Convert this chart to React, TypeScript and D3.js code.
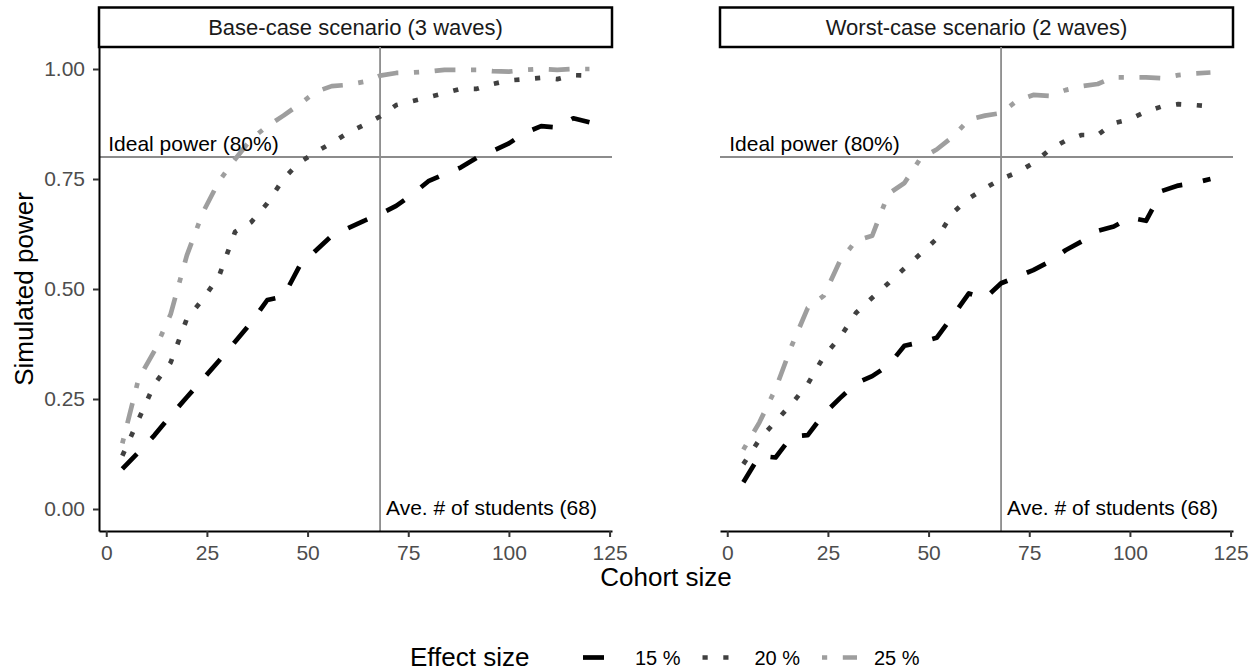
import React, { useEffect, useRef } from "react";
import * as d3 from "d3";

// cohort sizes simulated (x)
const cohortSizes = [
  4, 8, 12, 16, 20, 24, 28, 32, 36, 40, 44, 48, 52, 56, 60, 64, 68, 72, 76, 80,
  84, 88, 92, 96, 100, 104, 108, 112, 116, 120,
];

const scenarios = ["Base-case scenario (3 waves)", "Worst-case scenario (2 waves)"];
const effectSizes = ["15 %", "20 %", "25 %"];

// simulated power, base case
const base15 = [
  0.091, 0.129, 0.168, 0.212, 0.254, 0.295, 0.337, 0.38, 0.424, 0.475, 0.483,
  0.552, 0.587, 0.621, 0.638, 0.655, 0.67, 0.689, 0.715, 0.745, 0.761, 0.776,
  0.798, 0.814, 0.831, 0.855, 0.87, 0.867, 0.888, 0.879,
];
const base20 = [
  0.121, 0.203, 0.284, 0.333, 0.432, 0.477, 0.529, 0.63, 0.652, 0.695, 0.75,
  0.788, 0.811, 0.832, 0.855, 0.873, 0.892, 0.918, 0.927, 0.936, 0.945, 0.955,
  0.955, 0.966, 0.974, 0.977, 0.98, 0.977, 0.986, 0.985,
];
const base25 = [
  0.149, 0.295, 0.36, 0.443, 0.576, 0.674, 0.745, 0.795, 0.841, 0.87, 0.894,
  0.92, 0.948, 0.961, 0.964, 0.971, 0.985, 0.991, 0.992, 0.994, 0.998, 0.998,
  0.998, 0.995, 0.994, 0.998, 1.0, 0.998, 1.0, 1.0,
];

// simulated power, worst case
const worst15 = [
  0.061, 0.121, 0.117, 0.165, 0.168, 0.216, 0.252, 0.286, 0.302, 0.326, 0.371,
  0.379, 0.389, 0.439, 0.49, 0.479, 0.513, 0.528, 0.543, 0.562, 0.588, 0.608,
  0.632, 0.642, 0.662, 0.655, 0.723, 0.735, 0.741, 0.75,
];
const worst20 = [
  0.102, 0.158, 0.199, 0.239, 0.284, 0.347, 0.39, 0.446, 0.48, 0.513, 0.547,
  0.58, 0.614, 0.673, 0.706, 0.729, 0.75, 0.765, 0.786, 0.816, 0.837, 0.85,
  0.85, 0.877, 0.886, 0.903, 0.915, 0.92, 0.918, 0.915,
];
const worst25 = [
  0.135, 0.197, 0.273, 0.371, 0.457, 0.485, 0.564, 0.61, 0.621, 0.716, 0.741,
  0.797, 0.817, 0.846, 0.885, 0.894, 0.9, 0.928, 0.941, 0.939, 0.952, 0.961,
  0.966, 0.981, 0.981, 0.981, 0.979, 0.986, 0.99, 0.992,
];

const xTicks = [0, 25, 50, 75, 100, 125];
const yTicks = [0, 0.25, 0.5, 0.75, 1];
const idealPower = 0.8;
const aveStudents = 68;

const seriesByPanel = [
  [base15, base20, base25],
  [worst15, worst20, worst25],
];

const lineStyles = [
  { color: "#000000", dash: "21,21" },
  { color: "#404040", dash: "5.2,15.6" },
  { color: "#9e9e9e", dash: "5.2,15.6,20.8,15.6" },
];

const FONT = "'Liberation Sans', Arial, Helvetica, sans-serif";

const App = () => {
  const svgRef = useRef(null);

  useEffect(() => {
    const svg = d3.select(svgRef.current);
    svg.selectAll("*").remove();

    const panelW = 513;
    const top = 47;
    const bottom = 531;
    const panelX = [99, 720];

    const x = d3.scaleLinear().domain([-1.8, 125.6]).range([0, panelW]);
    const y = d3.scaleLinear().domain([-0.05, 1.05]).range([bottom, top]);

    const line = d3
      .line<number>()
      .x((d, i) => x(cohortSizes[i]))
      .y((d) => y(d));

    scenarios.forEach((title, p) => {
      const g = svg.append("g").attr("transform", `translate(${panelX[p]},0)`);

      // strip
      g.append("rect")
        .attr("x", 0)
        .attr("y", 7.5)
        .attr("width", panelW)
        .attr("height", top - 7.5)
        .attr("fill", "white")
        .attr("stroke", "black")
        .attr("stroke-width", 2.5);
      g.append("text")
        .attr("x", panelW / 2)
        .attr("y", 27.5)
        .attr("dy", "0.35em")
        .attr("text-anchor", "middle")
        .style("font-size", "22px")
        .style("fill", "#1a1a1a")
        .text(title);

      // reference lines
      g.append("line")
        .attr("x1", x(aveStudents))
        .attr("x2", x(aveStudents))
        .attr("y1", top)
        .attr("y2", bottom)
        .attr("stroke", "#8c8c8c")
        .attr("stroke-width", 1.8);
      g.append("line")
        .attr("x1", 0)
        .attr("x2", panelW)
        .attr("y1", y(idealPower))
        .attr("y2", y(idealPower))
        .attr("stroke", "#8c8c8c")
        .attr("stroke-width", 1.8);

      // power curves
      seriesByPanel[p].forEach((vals, s) => {
        g.append("path")
          .attr("d", line(vals))
          .attr("fill", "none")
          .attr("stroke", lineStyles[s].color)
          .attr("stroke-width", 4.7)
          .attr("stroke-dasharray", lineStyles[s].dash)
          .attr("stroke-linejoin", "round")
          .attr("stroke-linecap", "butt");
      });

      // annotations
      g.append("text")
        .attr("x", x(0) + 2)
        .attr("y", y(idealPower) - 6)
        .style("font-size", "21px")
        .style("fill", "#000")
        .text("Ideal power (80%)");
      g.append("text")
        .attr("x", x(aveStudents) + 6)
        .attr("y", y(0) + 5.5)
        .style("font-size", "21px")
        .style("fill", "#000")
        .text(`Ave. # of students (${aveStudents})`);

      // x axis
      const xa = g
        .append("g")
        .attr("transform", `translate(0,${bottom})`)
        .call(
          d3.axisBottom(x).tickValues(xTicks).tickSizeInner(6).tickSizeOuter(0).tickPadding(8)
        );
      xa.select(".domain").attr("stroke", "black").attr("stroke-width", 2);
      xa.selectAll(".tick line").attr("stroke", "#333").attr("stroke-width", 2);
      xa.selectAll(".tick text")
        .style("font-size", "21px")
        .style("font-family", FONT)
        .attr("fill", "#4d4d4d");

      if (p === 0) {
        const ya = g
          .append("g")
          .call(
            d3
              .axisLeft(y)
              .tickValues(yTicks)
              .tickFormat(d3.format(".2f"))
              .tickSizeInner(6)
              .tickSizeOuter(0)
              .tickPadding(8)
          );
        ya.select(".domain").attr("stroke", "black").attr("stroke-width", 2);
        ya.selectAll(".tick line").attr("stroke", "#333").attr("stroke-width", 2);
        ya.selectAll(".tick text")
          .style("font-size", "21px")
          .style("font-family", FONT)
          .attr("fill", "#4d4d4d");
      }
    });

    // axis titles
    svg
      .append("text")
      .attr("x", (panelX[0] + panelX[1] + panelW) / 2)
      .attr("y", 586)
      .attr("text-anchor", "middle")
      .style("font-size", "26px")
      .style("fill", "#000")
      .text("Cohort size");
    svg
      .append("text")
      .attr("transform", `translate(33,${(top + bottom) / 2}) rotate(-90)`)
      .attr("text-anchor", "middle")
      .style("font-size", "26px")
      .style("fill", "#000")
      .text("Simulated power");

    // legend
    const legend = svg.append("g");
    legend
      .append("text")
      .attr("x", 410)
      .attr("y", 666)
      .style("font-size", "26px")
      .style("fill", "#000")
      .text("Effect size");
    effectSizes.forEach((label, i) => {
      const kx = 583 + i * 119.5;
      legend
        .append("line")
        .attr("x1", kx)
        .attr("x2", kx + 35)
        .attr("y1", 657.5)
        .attr("y2", 657.5)
        .attr("stroke", lineStyles[i].color)
        .attr("stroke-width", 4.7)
        .attr("stroke-dasharray", lineStyles[i].dash);
      legend
        .append("text")
        .attr("x", kx + 52)
        .attr("y", 665)
        .style("font-size", "20px")
        .style("fill", "#000")
        .text(label);
    });
  }, []);

  return (
    <svg
      ref={svgRef}
      width={1258}
      height={672}
      style={{
        position: "absolute",
        left: 0,
        top: 0,
        background: "white",
        fontFamily: FONT,
      }}
    />
  );
};

export default App;
